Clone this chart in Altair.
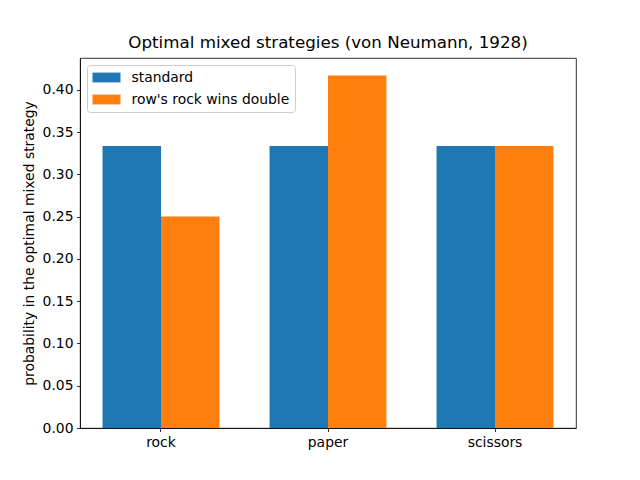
import altair as alt
import pandas as pd

strategies = ["rock", "paper", "scissors"]
series_names = ["standard", "row's rock wins double"]
standard = [0.3333, 0.3333, 0.3333]
rock_double = [0.25, 0.4167, 0.3333]
colors = ["#1f77b4", "#ff7f0e"]

rows = []
for s, v in zip(strategies, standard):
    rows.append({"strategy": s, "series": series_names[0], "p": v})
for s, v in zip(strategies, rock_double):
    rows.append({"strategy": s, "series": series_names[1], "p": v})
df = pd.DataFrame(rows)

font = "DejaVu Sans"
fs = 13.9

chart = alt.Chart(df).mark_bar().encode(
    x=alt.X("strategy:N", sort=strategies,
            scale=alt.Scale(paddingInner=0.3, paddingOuter=0.135),
            axis=alt.Axis(title=None, labelAngle=0, labelFont=font, labelFontSize=fs,
                          labelColor="black", tickColor="black", tickSize=3.5,
                          domainColor="black", labelPadding=3.5, tickWidth=0.8, domainWidth=0.8)),
    xOffset=alt.XOffset("series:N", sort=series_names,
                        scale=alt.Scale(paddingInner=0, paddingOuter=0)),
    y=alt.Y("p:Q", scale=alt.Scale(domain=[0, 0.4375], nice=False),
            axis=alt.Axis(title="probability in the optimal mixed strategy",
                          values=[0, 0.05, 0.1, 0.15, 0.2, 0.25, 0.3, 0.35, 0.4],
                          format=".2f", grid=False, labelFont=font, labelFontSize=fs,
                          labelColor="black", tickColor="black", tickSize=3.5,
                          tickWidth=0.8, domainWidth=0.8,
                          domainColor="black", labelPadding=3.5, titleFont=font,
                          titleFontSize=fs, titleFontWeight="normal", titleColor="black",
                          titlePadding=6)),
    color=alt.Color("series:N", sort=series_names,
                    scale=alt.Scale(domain=series_names, range=colors),
                    legend=alt.Legend(title=None, orient="none", legendX=7, legendY=7,
                                      symbolType="M-1,-0.7H3V0.7H-1Z",
                                      symbolSize=196, symbolStrokeWidth=0,
                                      symbolOpacity=1,
                                      labelFont=font, labelFontSize=fs, labelColor="black",
                                      labelOffset=25, rowPadding=8, padding=5.5,
                                      strokeColor="#cccccc", cornerRadius=3,
                                      fillColor="rgba(255,255,255,0.8)")),
).properties(
    width=496, height=370,
    title=alt.Title("Optimal mixed strategies (von Neumann, 1928)", font=font,
                    fontSize=16.7, fontWeight="normal", color="black", offset=6),
    autosize=alt.AutoSizeParams(type="none"),
    padding={"left": 72, "top": 50, "right": 56, "bottom": 44},
).configure_view(stroke="black", strokeWidth=0.8)

chart.save("out.html", embed_options={"renderer": "svg", "actions": False})
